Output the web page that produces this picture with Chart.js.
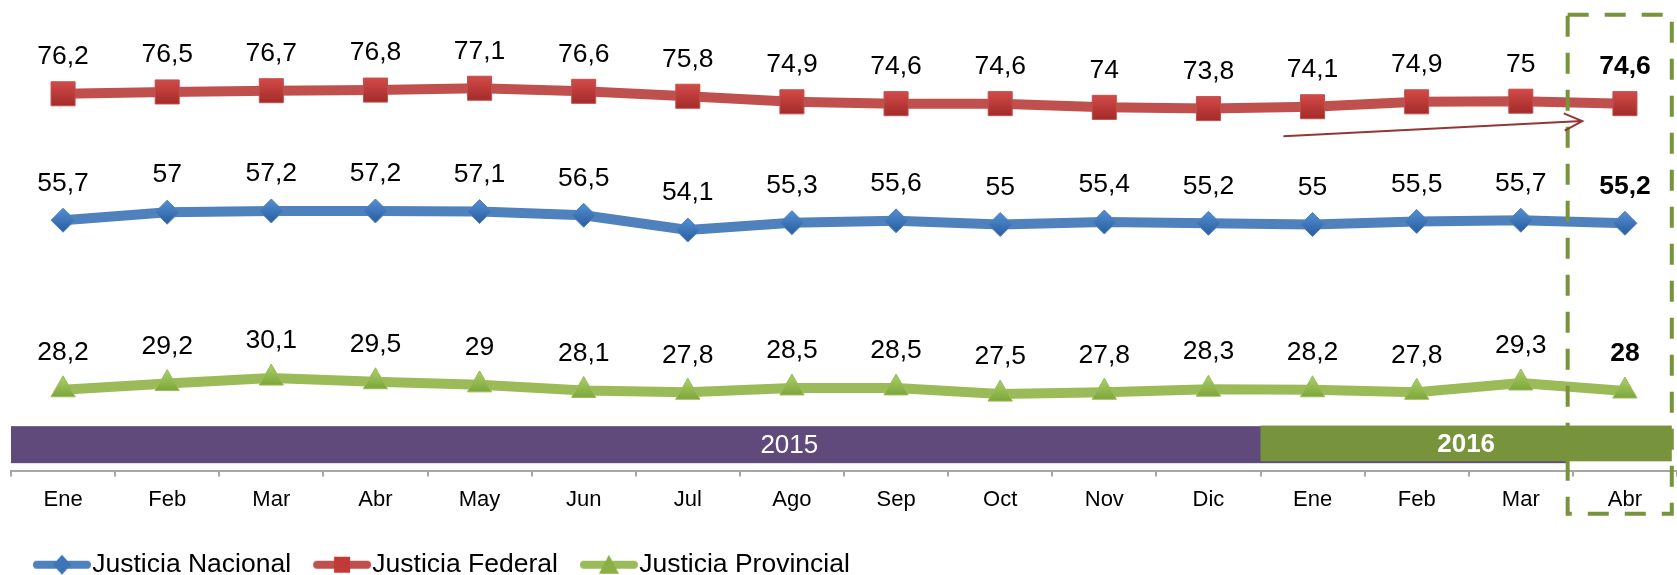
<!DOCTYPE html>
<html>
<head>
<meta charset="utf-8">
<script src="https://cdn.jsdelivr.net/npm/chart.js@4.4.1/dist/chart.umd.min.js"></script>
<style>
  body { margin: 0; background: #fff; }
  canvas { display: block; }
</style>
</head>
<body>
<canvas id="chart" width="1677" height="575"></canvas>
<script>
// data
const months = ["Ene", "Feb", "Mar", "Abr", "May", "Jun", "Jul", "Ago", "Sep", "Oct", "Nov", "Dic", "Ene", "Feb", "Mar", "Abr"];
const nacional = [55.7, 57, 57.2, 57.2, 57.1, 56.5, 54.1, 55.3, 55.6, 55, 55.4, 55.2, 55, 55.5, 55.7, 55.2];
const federal = [76.2, 76.5, 76.7, 76.8, 77.1, 76.6, 75.8, 74.9, 74.6, 74.6, 74, 73.8, 74.1, 74.9, 75, 74.6];
const provincial = [28.2, 29.2, 30.1, 29.5, 29, 28.1, 27.8, 28.5, 28.5, 27.5, 27.8, 28.3, 28.2, 27.8, 29.3, 28];

// year strips under the lines (x in category index, y in value units)
const years = ["2015", "2016"];
const yearFrom = [-0.5, 11.5];
const yearTo = [14.45, 15.45];
const yearLow = [16.3, 16.6];
const yearHigh = [22.3, 22.4];
const yearColors = ["#604A7B", "#77933C"];

const FONT = "'Liberation Sans', Arial, sans-serif";

const colors = {
    nacional: { line: "#4F81BD", fill: "#3E74B8", top: "#4C88CC", bottom: "#2F64A6" },
    federal: { line: "#C0504D", fill: "#C23A38", top: "#D24A48", bottom: "#A32B29" },
    provincial: { line: "#9BBB59", fill: "#8AB045", top: "#A2C860", bottom: "#76A035" }
};

// ✅ small line+marker icons for the legend
function legendIcon(c, shape) {
    const cv = document.createElement("canvas");
    cv.width = 60;
    cv.height = 24;
    const g = cv.getContext("2d");
    g.strokeStyle = c.line;
    g.lineWidth = 8;
    g.lineCap = "round";
    g.beginPath();
    g.moveTo(5, 12);
    g.lineTo(55, 12);
    g.stroke();
    g.fillStyle = c.fill;
    g.beginPath();
    if (shape === "diamond") {
        g.moveTo(30, 2); g.lineTo(39, 12); g.lineTo(30, 22); g.lineTo(21, 12);
    } else if (shape === "square") {
        g.rect(22, 4, 16, 16);
    } else {
        g.moveTo(30, 2); g.lineTo(40, 21); g.lineTo(20, 21);
    }
    g.closePath();
    g.fill();
    return cv;
}
const legendIcons = [
    legendIcon(colors.nacional, "diamond"),
    legendIcon(colors.federal, "square"),
    legendIcon(colors.provincial, "triangle")
];

// ✅ year strips + dashed box + arrow
const decorations = {
    id: "decorations",
    beforeDatasetsDraw(chart) {
        const { ctx, scales: { x, y } } = chart;
        ctx.save();
        years.forEach((yr, i) => {
            const l = x.getPixelForValue(yearFrom[i]);
            const r = x.getPixelForValue(yearTo[i]);
            const t = y.getPixelForValue(yearHigh[i]);
            const b = y.getPixelForValue(yearLow[i]);
            ctx.fillStyle = yearColors[i];
            ctx.fillRect(l, t, r - l, b - t);
            ctx.fillStyle = "#fff";
            ctx.font = (i === 1 ? "bold " : "") + "26px " + FONT;
            ctx.textAlign = "center";
            ctx.textBaseline = "middle";
            ctx.fillText(yr, (l + r) / 2, (t + b) / 2 + 1);
        });
        ctx.restore();
    },
    afterDraw(chart) {
        const { ctx, scales: { x, y } } = chart;
        ctx.save();
        // dashed highlight box round the last month
        const l = x.getPixelForValue(14.45);
        const r = x.getPixelForValue(15.45);
        const t = y.getPixelForValue(89);
        const b = y.getPixelForValue(8.1);
        ctx.strokeStyle = "#77933C";
        ctx.lineWidth = 4;
        ctx.setLineDash([21, 16]);
        ctx.strokeRect(l, t, r - l, b - t);
        ctx.setLineDash([]);

        // trend arrow
        const x0 = x.getPixelForValue(11.72), y0 = y.getPixelForValue(69.33);
        const x1 = x.getPixelForValue(14.59), y1 = y.getPixelForValue(71.77);
        const ang = Math.atan2(y1 - y0, x1 - x0);
        ctx.strokeStyle = "#943634";
        ctx.lineWidth = 2;
        ctx.beginPath();
        ctx.moveTo(x0, y0);
        ctx.lineTo(x1, y1);
        ctx.moveTo(x1 - 20 * Math.cos(ang - 0.45), y1 - 20 * Math.sin(ang - 0.45));
        ctx.lineTo(x1, y1);
        ctx.lineTo(x1 - 20 * Math.cos(ang + 0.45), y1 - 20 * Math.sin(ang + 0.45));
        ctx.stroke();
        ctx.restore();
    }
};

// ✅ value labels above each point, last month in bold
const valueLabels = {
    id: "valueLabels",
    afterDatasetsDraw(chart) {
        const ctx = chart.ctx;
        ctx.save();
        ctx.fillStyle = "#000";
        ctx.textAlign = "center";
        ctx.textBaseline = "middle";
        chart.data.datasets.forEach((ds, di) => {
            chart.getDatasetMeta(di).data.forEach((pt, i) => {
                const last = i === ds.data.length - 1;
                ctx.font = (last ? "bold " : "") + "26.5px " + FONT;
                ctx.fillText(String(ds.data[i]).replace(".", ","), pt.x, pt.y - 37);
            });
        });
        ctx.restore();
    }
};

// marker fill: light on top, darker at the bottom
function markerFill(c, radius) {
    return (context) => {
        const chart = context.chart;
        if (context.type !== "data" || !chart.scales.y || !context.parsed) return c.fill;
        const yp = chart.scales.y.getPixelForValue(context.parsed.y);
        if (!isFinite(yp)) return c.fill;
        const g = chart.ctx.createLinearGradient(0, yp - radius * 0.7, 0, yp + radius * 0.7);
        g.addColorStop(0, c.top);
        g.addColorStop(1, c.bottom);
        return g;
    };
}

function series(label, data, c, style, radius) {
    return {
        label: label,
        data: data,
        borderColor: c.line,
        backgroundColor: c.line,
        borderWidth: 10,
        tension: 0,
        pointStyle: style,
        pointRadius: radius,
        pointBackgroundColor: markerFill(c, radius),
        pointBorderColor: c.line,
        pointBorderWidth: 1
    };
}

new Chart(document.getElementById("chart"), {
    type: "line",
    data: {
        labels: months,
        datasets: [
            series("Justicia Nacional", nacional, colors.nacional, "rectRot", 12),
            series("Justicia Federal", federal, colors.federal, "rect", 17),
            series("Justicia Provincial", provincial, colors.provincial, "triangle", 14)
        ]
    },
    options: {
        responsive: false,
        animation: false,
        devicePixelRatio: 1,
        layout: { autoPadding: false, padding: { left: 11, right: 0, top: 0, bottom: -13 } },
        scales: {
            x: {
                offset: true,
                afterFit: (scale) => { scale.height = 47; },
                border: { color: "#A6A6A6", width: 2 },
                grid: {
                    display: true,
                    offset: true,
                    drawOnChartArea: false,
                    tickLength: 6,
                    color: "#A6A6A6",
                    lineWidth: 2
                },
                ticks: {
                    color: "#000",
                    padding: 10,
                    maxRotation: 0,
                    autoSkip: false,
                    font: { family: FONT, size: 22 }
                }
            },
            y: {
                display: false,
                min: 15.11,
                max: 91.41
            }
        },
        plugins: {
            tooltip: { enabled: false },
            legend: {
                position: "bottom",
                align: "start",
                labels: {
                    usePointStyle: true,
                    pointStyleWidth: 34,
                    padding: 34,
                    color: "#000",
                    font: { family: FONT, size: 26.5 },
                    generateLabels(chart) {
                        const items = Chart.defaults.plugins.legend.labels.generateLabels(chart);
                        items.forEach((it, i) => { it.pointStyle = legendIcons[i]; });
                        return items;
                    }
                }
            }
        }
    },
    plugins: [decorations, valueLabels]
});
</script>
</body>
</html>
